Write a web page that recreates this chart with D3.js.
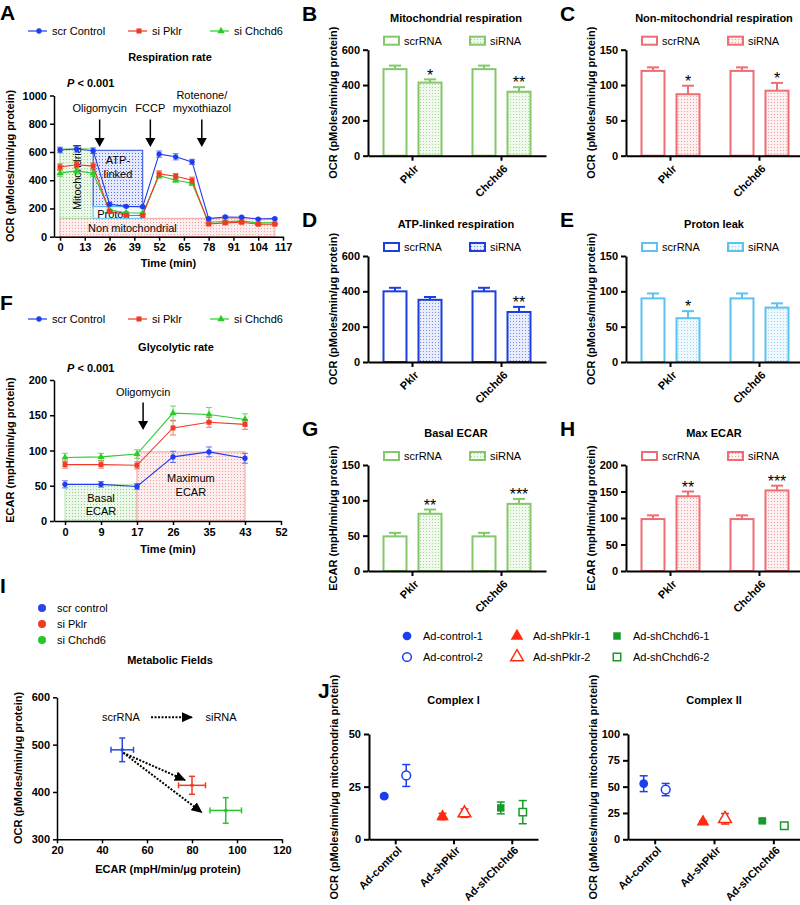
<!DOCTYPE html>
<html>
<head>
<meta charset="utf-8">
<title>Metabolic profiling</title>
<script src="https://cdn.jsdelivr.net/npm/d3@7/dist/d3.min.js"></script>
<style>
  body { margin: 0; background: #fff; }
  svg { display: block; font-family: "Liberation Sans", Arial, Helvetica, sans-serif; }
</style>
</head>
<body>
<div id="canvas"></div>
<script>
// ---------- values ----------

// A: respiration rate, OCR (pMoles/min/ug protein)
var respTime = [0, 8.7, 17.4, 26, 34.7, 43.4, 52, 60.7, 69.3, 78, 86.7, 95.3, 104, 112.7];
var respScr = [614, 621, 609, 230, 215, 212, 585, 566, 530, 128, 140, 138, 125, 128];
var respScrErr = [20, 22, 20, 8, 6, 6, 22, 22, 18, 8, 6, 6, 5, 5];
var respPklr = [494, 510, 500, 178, 152, 150, 445, 428, 400, 90, 98, 102, 88, 88];
var respPklrErr = [22, 22, 22, 12, 10, 10, 22, 20, 22, 12, 12, 10, 8, 8];
var respChchd6 = [450, 466, 450, 188, 170, 166, 432, 400, 378, 102, 108, 110, 98, 99];
var respChchd6Err = [22, 22, 22, 8, 8, 8, 18, 15, 15, 8, 8, 8, 6, 6];
var respTicks = [0, 13, 26, 39, 52, 65, 78, 91, 104, 117];
var respYTicks = [0, 200, 400, 600, 800, 1000];
var respInjections = ["Oligomycin", "FCCP", "Rotenone/|myxothiazol"];
var respInjectionTime = [20.8, 47.4, 74.4];
// shaded areas: [t0, t1, v0, v1]
var respNonMito = [0, 112.7, 0, 130];
var respMito = [0, 17.4, 130, 625];
var respAtp = [17.4, 43.4, 212, 612];
var respProton = [17.4, 43.4, 130, 212];

// F: glycolytic rate, ECAR (mpH/min/ug protein)
var glycoTime = [0, 8.67, 17.33, 26, 34.67, 43.33];
var glycoScr = [52, 52, 49, 91, 98, 89];
var glycoScrErr = [5, 4, 4, 8, 7, 7];
var glycoPklr = [80, 80, 79, 132, 140, 137];
var glycoPklrErr = [5, 5, 5, 10, 7, 7];
var glycoChchd6 = [90, 91, 95, 153, 151, 144];
var glycoChchd6Err = [6, 5, 6, 10, 10, 8];
var glycoTicks = [0, 8.67, 17.33, 26, 34.67, 43.33, 52];
var glycoTickLabels = ["0", "9", "17", "26", "35", "43", "52"];
var glycoYTicks = [0, 50, 100, 150, 200];
var glycoInjectionTime = [18.8];
var glycoBasal = [0, 17.33, 0, 52];
var glycoMax = [17.33, 43.33, 0, 98];

var seriesNames = ["scr Control", "si Pklr", "si Chchd6"];

// B-E, G-H: bar panels
var barCats = ["Pklr", "Chchd6"];
var mitoScr = [490, 490], mitoScrErr = [20, 20];
var mitoSi = [414, 362], mitoSiErr = [18, 26];
var mitoStars = ["*", "**"];
var nonMitoScr = [120, 120], nonMitoScrErr = [5, 5];
var nonMitoSi = [87, 92], nonMitoSiErr = [12, 11];
var nonMitoStars = ["*", "*"];
var atpScr = [400, 400], atpScrErr = [20, 20];
var atpSi = [352, 283], atpSiErr = [16, 29];
var atpStars = ["", "**"];
var protonScr = [90, 90], protonScrErr = [7, 7];
var protonSi = [62, 77], protonSiErr = [10, 6];
var protonStars = ["*", ""];
var basalScr = [49, 49], basalScrErr = [5, 5];
var basalSi = [81, 95], basalSiErr = [6, 7];
var basalStars = ["**", "***"];
var maxScr = [98, 98], maxScrErr = [7, 7];
var maxSi = [141, 152], maxSiErr = [9, 9];
var maxStars = ["**", "***"];

// I: metabolic fields
var fieldNames = ["scr control", "si Pklr", "si Chchd6"];
var fieldEcar = [49, 80, 95];
var fieldEcarErr = [5, 6, 7];
var fieldOcr = [489, 414, 361];
var fieldOcrErr = [25, 19, 27];

// J: complex I / II
var complexCats = ["Ad-control", "Ad-shPklr", "Ad-shChchd6"];
var complexSeries = ["Ad-control-1", "Ad-control-2", "Ad-shPklr-1", "Ad-shPklr-2", "Ad-shChchd6-1", "Ad-shChchd6-2"];
var complex1Val = [20.5, 30.3, 10.8, 12.4, 14.9, 12.9];
var complex1Err = [0.8, 5.2, 1.5, 2, 2.8, 5.5];
var complex2Val = [52.8, 47.2, 16.6, 19.5, 17.5, 12.8];
var complex2Err = [7.5, 5.8, 0.8, 5, 1.5, 1.5];

// ---------- drawing ----------
var BLUE = "#1f3cf0", RED = "#f03a24", GREEN = "#2ccc2c";
var svg = d3.select("#canvas").append("svg").attr("width", 800).attr("height", 905);
var defs = svg.append("defs");
var shapes = { circle: d3.symbolCircle, square: d3.symbolSquare, triangle: d3.symbolTriangle };

function dotPattern(id, dot, bg) {
  var p = defs.append("pattern").attr("id", id)
    .attr("patternUnits", "userSpaceOnUse").attr("width", 3).attr("height", 3);
  p.append("rect").attr("width", 3).attr("height", 3).attr("fill", bg);
  p.append("rect").attr("width", 1).attr("height", 1).attr("fill", dot);
}
dotPattern("dotGreen", "#8fd08a", "#eef8ea");
dotPattern("dotRed", "#f4a0a4", "#fdeeee");
dotPattern("dotBlue", "#5870ee", "#e6e9fc");
dotPattern("dotCyan", "#8fd4f2", "#eef8fd");

defs.append("marker").attr("id", "arrowHead")
  .attr("markerUnits", "userSpaceOnUse").attr("markerWidth", 12).attr("markerHeight", 10)
  .attr("refX", 10).attr("refY", 5).attr("orient", "auto")
  .append("path").attr("d", "M0,0L11,5L0,10Z").attr("fill", "#000");

function txt(g, x, y, s, size, weight, anchor) {
  return g.append("text").attr("x", x).attr("y", y).attr("font-size", size)
    .attr("font-weight", weight || "normal").attr("text-anchor", anchor || "middle")
    .attr("fill", "#000").text(s);
}

function letter(s, x, y) {
  txt(svg, x, y, s, 21, "bold", "start");
}

function yLabel(s, x, y) {
  txt(svg, 0, 0, s, 11, "bold", "middle").attr("transform", "translate(" + x + "," + y + ") rotate(-90)");
}

function styleAxis(a, w) {
  a.attr("font-family", null).attr("font-size", null);
  a.select(".domain").attr("stroke", "#000").attr("stroke-width", w);
  a.selectAll(".tick line").attr("stroke", "#000").attr("stroke-width", w);
  a.selectAll(".tick text").attr("fill", "#000").attr("font-size", 11).attr("font-weight", "bold");
}

function pValue(x, y) {
  var t = svg.append("text").attr("x", x).attr("y", y).attr("font-size", 11).attr("font-weight", "bold");
  t.append("tspan").attr("font-style", "italic").text("P");
  t.append("tspan").text(" < 0.001");
}

function seriesLegend(y0) {
  var xs = [28, 128, 210], cols = [BLUE, RED, GREEN], shp = ["circle", "square", "triangle"], sz = [22, 26, 24];
  seriesNames.forEach(function(n, i) {
    svg.append("line").attr("x1", xs[i]).attr("x2", xs[i] + 19).attr("y1", y0).attr("y2", y0)
      .attr("stroke", cols[i]).attr("stroke-width", 1.2);
    svg.append("path").attr("transform", "translate(" + (xs[i] + 11) + "," + y0 + ")")
      .attr("d", d3.symbol().type(shapes[shp[i]]).size(sz[i])).attr("fill", cols[i]);
    txt(svg, xs[i] + 24, y0 + 4, n, 11, "normal", "start");
  });
}

function timeCourse(g, x, y, t, series) {
  series.forEach(function(s) {
    var pts = t.map(function(d, i) { return { t: d, v: s.vals[i], e: s.errs[i] }; });
    g.append("path").datum(pts).attr("fill", "none").attr("stroke", s.color).attr("stroke-width", 1.1)
      .attr("d", d3.line().x(function(d) { return x(d.t); }).y(function(d) { return y(d.v); }));
    var eb = g.append("g").attr("stroke", s.color).attr("stroke-width", 1).attr("opacity", 0.7);
    pts.forEach(function(d) {
      var cx = x(d.t), y1 = y(d.v + d.e), y2 = y(d.v - d.e);
      eb.append("line").attr("x1", cx).attr("x2", cx).attr("y1", y1).attr("y2", y2);
      eb.append("line").attr("x1", cx - 3).attr("x2", cx + 3).attr("y1", y1).attr("y2", y1);
      eb.append("line").attr("x1", cx - 3).attr("x2", cx + 3).attr("y1", y2).attr("y2", y2);
    });
    g.selectAll(null).data(pts).enter().append("path")
      .attr("transform", function(d) { return "translate(" + x(d.t) + "," + y(d.v) + ")"; })
      .attr("d", d3.symbol().type(shapes[s.shape]).size(s.size)).attr("fill", s.color);
  });
}

function region(g, x, y, r, fill, stroke) {
  g.append("rect").attr("x", x(r[0])).attr("y", y(r[3]))
    .attr("width", x(r[1]) - x(r[0])).attr("height", y(r[2]) - y(r[3]))
    .attr("fill", fill).attr("stroke", stroke).attr("stroke-width", 1);
}

function injection(g, x, y, t, label, yText, yFrom, yTo) {
  var cx = x(t);
  var lines = label.split("|");
  lines.forEach(function(l, i) {
    txt(g, cx, y(yText) - (lines.length - 1 - i) * 13, l, 11, "normal", "middle");
  });
  g.append("line").attr("x1", cx).attr("x2", cx).attr("y1", y(yFrom)).attr("y2", y(yTo) - 8)
    .attr("stroke", "#000").attr("stroke-width", 1.5);
  g.append("path").attr("d", "M" + (cx - 5) + "," + (y(yTo) - 9) + "L" + (cx + 5) + "," + (y(yTo) - 9) + "L" + cx + "," + y(yTo) + "Z")
    .attr("fill", "#000");
}

// ----- panel A -----
(function() {
  var g = svg.append("g");
  var x = d3.scaleLinear().domain([-3.15, 117]).range([54, 283]);
  var y = d3.scaleLinear().domain([0, 1000]).range([236.7, 95.5]);

  region(g, x, y, respNonMito, "url(#dotRed)", "#f4a4a8");
  region(g, x, y, respMito, "url(#dotGreen)", "#a8dca2");
  region(g, x, y, respAtp, "url(#dotBlue)", "#2c4ce8");
  region(g, x, y, respProton, "#f3fafe", "#5cc6f0");

  txt(g, 0, 0, "Mitochondrial", 11, "normal", "middle")
    .attr("transform", "translate(" + (x(8.7) + 4) + "," + y(420) + ") rotate(-90)");
  txt(g, x(30.4), y(515), "ATP-", 11);
  txt(g, x(30.4), y(415), "linked", 11);
  txt(g, x(28), y(135), "Proton", 11);
  txt(g, x(38), y(30), "Non mitochondrial", 11);

  timeCourse(g, x, y, respTime, [
    { vals: respChchd6, errs: respChchd6Err, color: GREEN, shape: "triangle", size: 22 },
    { vals: respPklr, errs: respPklrErr, color: RED, shape: "square", size: 24 },
    { vals: respScr, errs: respScrErr, color: BLUE, shape: "circle", size: 22 }
  ]);

  injection(g, x, y, respInjectionTime[0], respInjections[0], 880, 830, 635);
  injection(g, x, y, respInjectionTime[1], respInjections[1], 880, 830, 635);
  injection(g, x, y, respInjectionTime[2], respInjections[2], 880, 830, 635);

  var ax = g.append("g").attr("transform", "translate(0," + y(0) + ")")
    .call(d3.axisBottom(x).tickValues(respTicks).tickSize(4).tickSizeOuter(0));
  styleAxis(ax, 1.5);
  var ay = g.append("g").attr("transform", "translate(54,0)")
    .call(d3.axisLeft(y).tickValues(respYTicks).tickFormat(d3.format("d")).tickSize(4).tickSizeOuter(0));
  styleAxis(ay, 1.5);

  letter("A", 0, 20);
  seriesLegend(31);
  txt(svg, 170, 61, "Respiration rate", 11, "bold");
  pValue(67, 87);
  txt(svg, 168.5, 267, "Time (min)", 11, "bold");
  yLabel("OCR (pMoles/min/\u03bcg protein)", 14, 166);
})();

// ----- panel F -----
(function() {
  var g = svg.append("g");
  var x = d3.scaleLinear().domain([-2.65, 52]).range([54, 281]);
  var y = d3.scaleLinear().domain([0, 200]).range([521, 380]);

  region(g, x, y, glycoBasal, "url(#dotGreen)", "#b8e2b2");
  region(g, x, y, glycoMax, "url(#dotRed)", "#f29ca0");
  txt(g, x(8.67), y(27), "Basal", 11);
  txt(g, x(8.67), y(8), "ECAR", 11);
  txt(g, x(30.3), y(55), "Maximum", 11);
  txt(g, x(30.3), y(35), "ECAR", 11);

  timeCourse(g, x, y, glycoTime, [
    { vals: glycoChchd6, errs: glycoChchd6Err, color: GREEN, shape: "triangle", size: 22 },
    { vals: glycoPklr, errs: glycoPklrErr, color: RED, shape: "square", size: 24 },
    { vals: glycoScr, errs: glycoScrErr, color: BLUE, shape: "circle", size: 22 }
  ]);
  injection(g, x, y, glycoInjectionTime[0], "Oligomycin", 177, 168, 129);

  var ax = g.append("g").attr("transform", "translate(0," + y(0) + ")")
    .call(d3.axisBottom(x).tickValues(glycoTicks).tickSize(4).tickSizeOuter(0)
      .tickFormat(function(d, i) { return glycoTickLabels[i]; }));
  styleAxis(ax, 1.5);
  var ay = g.append("g").attr("transform", "translate(54,0)")
    .call(d3.axisLeft(y).tickValues(glycoYTicks).tickSize(4).tickSizeOuter(0));
  styleAxis(ay, 1.5);

  letter("F", 0, 310);
  seriesLegend(319);
  txt(svg, 176, 351, "Glycolytic rate", 11, "bold");
  pValue(67, 372);
  txt(svg, 168, 553, "Time (min)", 11, "bold");
  yLabel("ECAR (mpH/min/\u03bcg protein)", 14, 450);
})();

// ----- bar panels -----
function barPanel(o) {
  var g = svg.append("g");
  var x = d3.scaleBand().domain(barCats).range([o.x0, o.x0 + 178]);
  var x1 = d3.scaleBand().domain(["scr", "si"]).range([-29, 29]).paddingInner(0.343);
  var y = d3.scaleLinear().domain([0, o.max]).range([o.y0, o.y0 - 106]);
  var mid = function(c) { return x(c) + x.bandwidth() / 2; };

  var groups = [
    { key: "scr", vals: o.scr, errs: o.scrErr, fill: "#fff" },
    { key: "si", vals: o.si, errs: o.siErr, fill: "url(#" + o.pat + ")" }
  ];
  groups.forEach(function(gr) {
    barCats.forEach(function(c, i) {
      var bx = mid(c) + x1(gr.key), bw = x1.bandwidth(), cx = bx + bw / 2;
      var top = y(gr.vals[i]), et = y(gr.vals[i] + gr.errs[i]);
      g.append("line").attr("x1", cx).attr("x2", cx).attr("y1", top).attr("y2", et)
        .attr("stroke", o.color).attr("stroke-width", 2);
      g.append("line").attr("x1", cx - 6).attr("x2", cx + 6).attr("y1", et).attr("y2", et)
        .attr("stroke", o.color).attr("stroke-width", 2);
      g.append("rect").attr("x", bx).attr("y", top).attr("width", bw).attr("height", o.y0 - top)
        .attr("fill", gr.fill).attr("stroke", o.color).attr("stroke-width", 2);
      if (gr.key === "si" && o.stars[i]) {
        txt(g, cx, et - 2, o.stars[i], 16, "normal").attr("dy", "0.2em");
      }
    });
  });

  var ax = g.append("g").attr("transform", "translate(0," + o.y0 + ")")
    .call(d3.axisBottom(x).tickSize(5).tickSizeOuter(0));
  styleAxis(ax, 2);
  ax.selectAll(".tick text").attr("x", 0).attr("y", 0).attr("dy", "0.35em")
    .attr("text-anchor", "end").attr("transform", "translate(4,11) rotate(-45)");
  var ay = g.append("g").attr("transform", "translate(" + o.x0 + ",0)")
    .call(d3.axisLeft(y).tickValues(o.ticks).tickSize(5).tickSizeOuter(0));
  styleAxis(ay, 2);

  var cx0 = o.x0 + 88, ly = o.y0 - 115;
  txt(svg, cx0, o.y0 - 134, o.title, 11, "bold");
  svg.append("rect").attr("x", o.x0 + 16).attr("y", ly - 4).attr("width", 15).attr("height", 8)
    .attr("fill", "#fff").attr("stroke", o.color).attr("stroke-width", 2);
  txt(svg, o.x0 + 36, ly + 4, "scrRNA", 11, "normal", "start");
  svg.append("rect").attr("x", o.x0 + 102).attr("y", ly - 4).attr("width", 15).attr("height", 8)
    .attr("fill", "url(#" + o.pat + ")").attr("stroke", o.color).attr("stroke-width", 2);
  txt(svg, o.x0 + 122, ly + 4, "siRNA", 11, "normal", "start");
  yLabel(o.ylabel, o.x0 - 31, o.y0 - 53);
  letter(o.letter, o.x0 - 66, o.y0 - 135);
}

var OCR = "OCR (pMoles/min/\u03bcg protein)", ECAR = "ECAR (mpH/min/\u03bcg protein)";
var GB = "#84c86a", RB = "#ee6e74", DB = "#1d3fe0", LB = "#5cc2ee";
dotPattern("barGreen", "#a9d99a", "#f1f8ee");
dotPattern("barRed", "#f2a2a6", "#fdf0f0");
dotPattern("barBlue", "#7d8fe8", "#e9ecfb");
dotPattern("barCyan", "#9ad6f2", "#eef8fd");

barPanel({ x0: 368, y0: 155.7, max: 600, ticks: [0, 200, 400, 600], color: GB, pat: "barGreen",
  scr: mitoScr, scrErr: mitoScrErr, si: mitoSi, siErr: mitoSiErr, stars: mitoStars,
  title: "Mitochondrial respiration", ylabel: OCR, letter: "B" });
barPanel({ x0: 626, y0: 155.7, max: 150, ticks: [0, 50, 100, 150], color: RB, pat: "barRed",
  scr: nonMitoScr, scrErr: nonMitoScrErr, si: nonMitoSi, siErr: nonMitoSiErr, stars: nonMitoStars,
  title: "Non-mitochondrial respiration", ylabel: OCR, letter: "C" });
barPanel({ x0: 368, y0: 362, max: 600, ticks: [0, 200, 400, 600], color: DB, pat: "barBlue",
  scr: atpScr, scrErr: atpScrErr, si: atpSi, siErr: atpSiErr, stars: atpStars,
  title: "ATP-linked respiration", ylabel: OCR, letter: "D" });
barPanel({ x0: 626, y0: 362, max: 150, ticks: [0, 50, 100, 150], color: LB, pat: "barCyan",
  scr: protonScr, scrErr: protonScrErr, si: protonSi, siErr: protonSiErr, stars: protonStars,
  title: "Proton leak", ylabel: OCR, letter: "E" });
barPanel({ x0: 368, y0: 571, max: 150, ticks: [0, 50, 100, 150], color: GB, pat: "barGreen",
  scr: basalScr, scrErr: basalScrErr, si: basalSi, siErr: basalSiErr, stars: basalStars,
  title: "Basal ECAR", ylabel: ECAR, letter: "G" });
barPanel({ x0: 626, y0: 571, max: 200, ticks: [0, 50, 100, 150, 200], color: RB, pat: "barRed",
  scr: maxScr, scrErr: maxScrErr, si: maxSi, siErr: maxSiErr, stars: maxStars,
  title: "Max ECAR", ylabel: ECAR, letter: "H" });

// ----- panel I -----
(function() {
  var g = svg.append("g");
  var x = d3.scaleLinear().domain([20, 120]).range([57, 282]);
  var y = d3.scaleLinear().domain([300, 600]).range([839.3, 697.3]);
  var cols = ["#2b46e6", "#f03c22", "#26c826"];

  var ax = g.append("g").attr("transform", "translate(0," + y(300) + ")")
    .call(d3.axisBottom(x).tickValues([20, 40, 60, 80, 100, 120]).tickSize(4).tickSizeOuter(0));
  styleAxis(ax, 1.5);
  var ay = g.append("g").attr("transform", "translate(57,0)")
    .call(d3.axisLeft(y).tickValues([300, 400, 500, 600]).tickSize(4).tickSizeOuter(0));
  styleAxis(ay, 1.5);

  fieldNames.forEach(function(n, i) {
    var cx = x(fieldEcar[i]), cy = y(fieldOcr[i]);
    var xl = x(fieldEcar[i] - fieldEcarErr[i]), xr = x(fieldEcar[i] + fieldEcarErr[i]);
    var yt = y(fieldOcr[i] + fieldOcrErr[i]), yb = y(fieldOcr[i] - fieldOcrErr[i]);
    var e = g.append("g").attr("stroke", cols[i]).attr("stroke-width", 1.5);
    e.append("line").attr("x1", xl).attr("x2", xr).attr("y1", cy).attr("y2", cy);
    e.append("line").attr("x1", xl).attr("x2", xl).attr("y1", cy - 3).attr("y2", cy + 3);
    e.append("line").attr("x1", xr).attr("x2", xr).attr("y1", cy - 3).attr("y2", cy + 3);
    e.append("line").attr("x1", cx).attr("x2", cx).attr("y1", yt).attr("y2", yb);
    e.append("line").attr("x1", cx - 3).attr("x2", cx + 3).attr("y1", yt).attr("y2", yt);
    e.append("line").attr("x1", cx - 3).attr("x2", cx + 3).attr("y1", yb).attr("y2", yb);
    g.append("circle").attr("cx", cx).attr("cy", cy).attr("r", 1.8).attr("fill", cols[i]);

    svg.append("circle").attr("cx", 42).attr("cy", 608 + i * 16).attr("r", 4).attr("fill", cols[i]);
    txt(svg, 57, 612 + i * 16, n, 11, "normal", "start");
  });

  // scrRNA -> siRNA key and shift arrows
  txt(g, x(48.4), y(558) + 4, "scrRNA", 11);
  txt(g, x(92.9), y(558) + 4, "siRNA", 11);
  g.append("line").attr("x1", x(61.8)).attr("x2", x(80)).attr("y1", y(558)).attr("y2", y(558))
    .attr("stroke", "#000").attr("stroke-width", 2).attr("stroke-dasharray", "2,1.5")
    .attr("marker-end", "url(#arrowHead)");
  [[1, 76.9, 425], [2, 84.3, 357]].forEach(function(a) {
    g.append("line").attr("x1", x(fieldEcar[0]) + 1).attr("y1", y(fieldOcr[0]) + 3)
      .attr("x2", x(a[1])).attr("y2", y(a[2]))
      .attr("stroke", "#000").attr("stroke-width", 2).attr("stroke-dasharray", "2,1.5")
      .attr("marker-end", "url(#arrowHead)");
  });

  letter("I", 0, 593);
  txt(svg, 170, 664, "Metabolic Fields", 11, "bold");
  txt(svg, 168, 873, "ECAR (mpH/min/\u03bcg protein)", 11, "bold");
  yLabel("OCR (pMoles/min/\u03bcg protein)", 22, 768);
})();

// ----- panel J -----
var jCols = ["#1a3ef0", "#ff2a10", "#1a9a2a"];
var jShapes = ["circle", "triangle", "square"];
var jSizes = [60, 70, 56];

function jMarker(sel, i, cx, cy) {
  var k = Math.floor(i / 2), open = i % 2 === 1;
  var p = sel.append("path").attr("transform", "translate(" + cx + "," + cy + ")")
    .attr("d", d3.symbol().type(shapes[jShapes[k]]).size(jSizes[k]));
  if (open) p.attr("fill", "#fff").attr("stroke", jCols[k]).attr("stroke-width", 1.5);
  else p.attr("fill", jCols[k]);
}

function complexPanel(x0, x1, max, ticks, vals, errs, title) {
  var g = svg.append("g");
  var x = d3.scalePoint().domain(complexCats).range([x0, x1]).padding(0.45);
  var y = d3.scaleLinear().domain([0, max]).range([839.3, 734]);

  complexSeries.forEach(function(s, i) {
    var k = Math.floor(i / 2), cx = x(complexCats[k]) + (i % 2 ? 11 : -11);
    var yt = y(vals[i] + errs[i]), yb = y(vals[i] - errs[i]);
    var e = g.append("g").attr("stroke", jCols[k]).attr("stroke-width", 1.5);
    e.append("line").attr("x1", cx).attr("x2", cx).attr("y1", yt).attr("y2", yb);
    e.append("line").attr("x1", cx - 4).attr("x2", cx + 4).attr("y1", yt).attr("y2", yt);
    e.append("line").attr("x1", cx - 4).attr("x2", cx + 4).attr("y1", yb).attr("y2", yb);
    jMarker(g, i, cx, y(vals[i]));
  });

  var ax = g.append("g").attr("transform", "translate(0,839.3)")
    .call(d3.axisBottom(x).tickSize(5).tickSizeOuter(0));
  styleAxis(ax, 2);
  ax.selectAll(".tick text").attr("x", 0).attr("y", 0).attr("dy", "0.35em")
    .attr("text-anchor", "end").attr("transform", "translate(4,9) rotate(-45)");
  var ay = g.append("g").attr("transform", "translate(" + x0 + ",0)")
    .call(d3.axisLeft(y).tickValues(ticks).tickSize(5).tickSizeOuter(0));
  styleAxis(ay, 2);

  txt(svg, (x0 + x1) / 2, 704, title, 11, "bold");
  yLabel("OCR (pMoles/min/\u03bcg mitochondria protein)", x0 - 31, 787);
}

complexPanel(369, 538, 50, [0, 25, 50], complex1Val, complex1Err, "Complex I");
complexPanel(628, 800, 100, [0, 25, 50, 75, 100], complex2Val, complex2Err, "Complex II");

var legX = [407, 517, 617];
complexSeries.forEach(function(s, i) {
  var k = Math.floor(i / 2), ly = 636 + (i % 2) * 21;
  jMarker(svg, i, legX[k], ly);
  txt(svg, legX[k] + 16, ly + 4, s, 11, "normal", "start");
});
letter("J", 318, 698);
</script>
</body>
</html>
